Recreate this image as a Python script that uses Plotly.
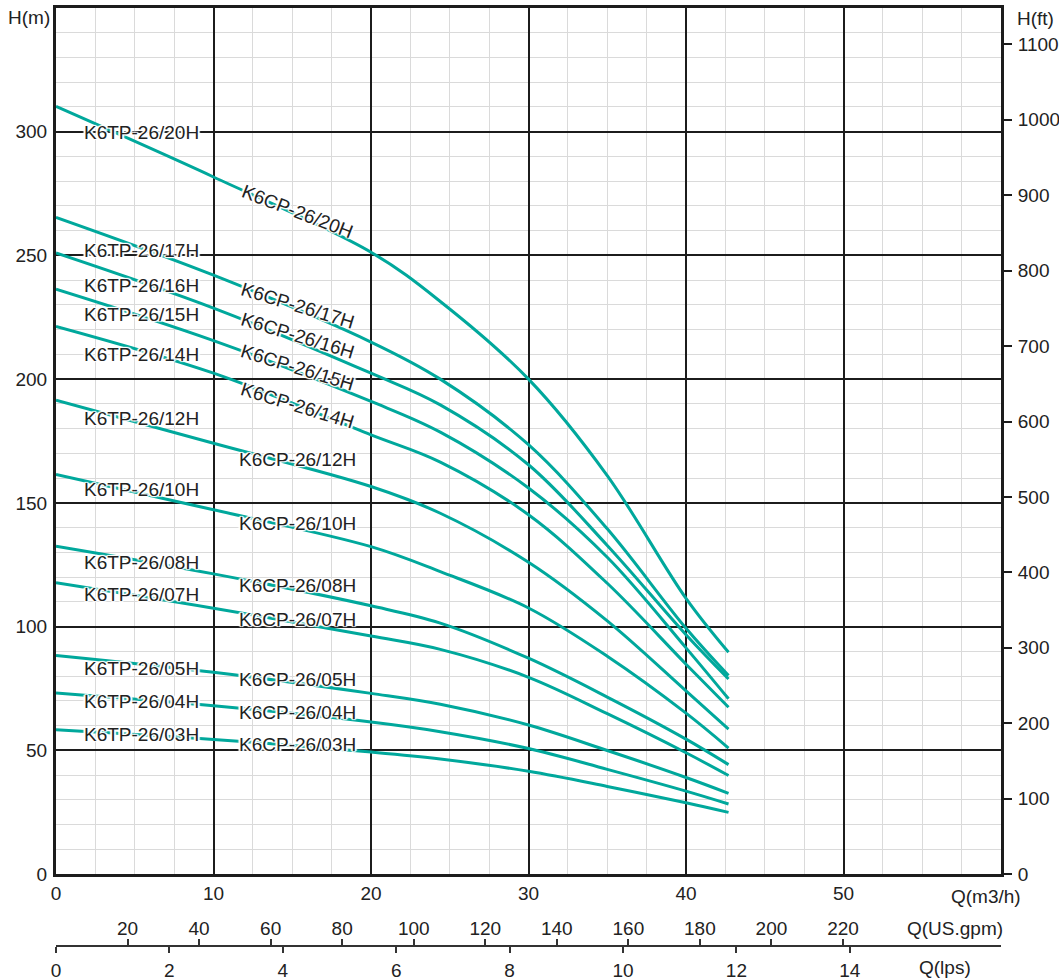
import plotly.graph_objects as go

# ---------------- data ----------------
Q = [0, 10, 20, 24.4, 30, 35, 40, 42.7]          # m3/h

H_20H = [310.2, 281.7, 251.3, 231.4, 200.0, 161.0, 111.4, 89.6]
H_17H = [265.4, 242.0, 215.0, 200.0, 173.5, 139.5, 99.3, 80.2]
H_16H = [251.0, 228.7, 202.4, 189.6, 165.4, 132.8, 96.7, 78.8]
H_15H = [236.4, 215.6, 191.0, 178.6, 156.0, 128.0, 91.4, 70.8]
H_14H = [221.3, 202.4, 177.5, 166.5, 145.2, 117.5, 84.8, 67.4]
H_12H = [191.5, 174.1, 156.6, 145.8, 126.0, 102.3, 74.0, 58.6]
H_10H = [161.5, 147.2, 132.3, 122.2, 107.5, 88.0, 65.0, 50.9]
H_08H = [132.5, 121.3, 108.4, 101.4, 87.2, 71.5, 54.5, 44.2]
H_07H = [117.7, 107.4, 96.2, 90.8, 79.5, 64.8, 49.0, 39.8]
H_05H = [88.3, 81.5, 73.0, 68.6, 60.2, 49.9, 39.0, 32.6]
H_04H = [73.2, 68.0, 61.4, 57.5, 50.7, 42.3, 33.5, 28.3]
H_03H = [58.3, 54.4, 49.3, 46.5, 41.5, 35.4, 28.8, 24.9]

curves = [H_20H, H_17H, H_16H, H_15H, H_14H, H_12H, H_10H,
          H_08H, H_07H, H_05H, H_04H, H_03H]

# left labels (K6TP) : text, Q centre, H centre
tp_labels = ["K6TP-26/20H", "K6TP-26/17H", "K6TP-26/16H", "K6TP-26/15H",
             "K6TP-26/14H", "K6TP-26/12H", "K6TP-26/10H", "K6TP-26/08H",
             "K6TP-26/07H", "K6TP-26/05H", "K6TP-26/04H", "K6TP-26/03H"]
tp_Q = 5.41
tp_H = [299.6, 251.8, 238.0, 226.0, 210.0, 184.0, 155.3, 126.0, 112.8, 83.2, 69.8, 56.5]

# right labels (K6CP) : text, Q centre, H centre, angle
cp_labels = ["K6CP-26/20H", "K6CP-26/17H", "K6CP-26/16H", "K6CP-26/15H",
             "K6CP-26/14H", "K6CP-26/12H", "K6CP-26/10H", "K6CP-26/08H",
             "K6CP-26/07H", "K6CP-26/05H", "K6CP-26/04H", "K6CP-26/03H"]
cp_Q = 15.33
cp_H = [267.9, 229.6, 217.5, 204.8, 189.5, 167.4, 141.5, 116.4, 103.0, 78.7, 65.4, 52.4]
cp_angle = [21, 17, 17, 17, 17, 0, 0, 0, 0, 0, 0, 0]

x_ticks = [0, 10, 20, 30, 40, 50, 60]
x_ticktext = ["0", "10", "20", "30", "40", "50", ""]
y_ticks = [0, 50, 100, 150, 200, 250, 300]
ft_ticks = [0, 100, 200, 300, 400, 500, 600, 700, 800, 900, 1000, 1100]
gpm_ticks = [20, 40, 60, 80, 100, 120, 140, 160, 180, 200, 220]
lps_ticks = [0, 2, 4, 6, 8, 10, 12, 14]

Q_MAX = 60
H_MAX = 350
M_PER_FT = 0.3048
M3H_PER_GPM = 0.2271247
M3H_PER_LPS = 3.6

# ---------------- styling / layout ----------------
W, HGT = 1059, 980
ML, MR, MT, MB = 56, 58, 8, 20
PW = W - ML - MR
PH = HGT - MT - MB


def px(xp):
    return (xp - ML) / PW


def py(yp):
    return (HGT - MB - yp) / PH


FONT = "Liberation Sans, Arial, sans-serif"
TXT = "#222222"
TEAL = "#00A89C"
BLACK = "#1c1c1c"
MINOR = "#dadada"
FS = 19

fig = go.Figure()
for h in curves:
    fig.add_trace(go.Scatter(x=Q, y=h, mode="lines",
                             line=dict(color=TEAL, width=3, shape="spline", smoothing=1.0),
                             showlegend=False, hoverinfo="skip", xaxis="x", yaxis="y"))

# helper traces so that the secondary axes are drawn
fig.add_trace(go.Scatter(x=[None], y=[None], xaxis="x", yaxis="y2", showlegend=False))
fig.add_trace(go.Scatter(x=[None], y=[None], xaxis="x2", yaxis="y", showlegend=False))
fig.add_trace(go.Scatter(x=[None], y=[None], xaxis="x3", yaxis="y", showlegend=False))

main_bottom = py(874)
axis_pos = py(946)

tickfont = dict(family=FONT, size=FS, color=TXT)

fig.update_layout(
    width=W, height=HGT,
    margin=dict(l=ML, r=MR, t=MT, b=MB, autoexpand=False),
    paper_bgcolor="white", plot_bgcolor="white",
    font=dict(family=FONT, size=FS, color=TXT),
    xaxis=dict(range=[0, Q_MAX], domain=[0, 1], anchor="y", automargin=False,
               tickmode="array", tickvals=x_ticks, ticktext=x_ticktext,
               showgrid=True, gridcolor=BLACK, gridwidth=2,
               minor=dict(tickmode="linear", tick0=0, dtick=2.5, showgrid=True,
                          gridcolor=MINOR, gridwidth=1.3),
               showline=True, linecolor=BLACK, linewidth=3, mirror=True,
               zeroline=False, ticks="", ticklabelstandoff=0, tickfont=tickfont),
    yaxis=dict(range=[0, H_MAX], domain=[main_bottom, 1], anchor="x", automargin=False,
               tickmode="array", tickvals=y_ticks,
               showgrid=True, gridcolor=BLACK, gridwidth=2,
               minor=dict(tickmode="linear", tick0=0, dtick=10, showgrid=True,
                          gridcolor=MINOR, gridwidth=1.3),
               showline=True, linecolor=BLACK, linewidth=3, mirror=True,
               zeroline=False, ticks="", ticklabelstandoff=2, tickfont=tickfont),
    yaxis2=dict(range=[0, H_MAX / M_PER_FT], domain=[main_bottom, 1], anchor="x",
                overlaying="y", side="right", automargin=False,
                tickmode="array", tickvals=ft_ticks,
                showgrid=False, zeroline=False, showline=False,
                ticks="outside", ticklen=10, tickwidth=1.5, tickcolor=BLACK,
                ticklabelstandoff=2, tickfont=tickfont),
    xaxis2=dict(range=[0, Q_MAX / M3H_PER_GPM], domain=[0, 1], automargin=False,
                overlaying="x", anchor="free", position=axis_pos, side="top",
                tickmode="array", tickvals=gpm_ticks,
                showgrid=False, zeroline=False,
                showline=True, linecolor="#333333", linewidth=2,
                ticks="outside", ticklen=6, tickwidth=1.5, tickcolor="#333333",
                ticklabelstandoff=-4, tickfont=tickfont),
    xaxis3=dict(range=[0, Q_MAX / M3H_PER_LPS], domain=[0, 1], automargin=False,
                overlaying="x", anchor="free", position=axis_pos, side="bottom",
                tickmode="array", tickvals=lps_ticks,
                showgrid=False, zeroline=False,
                showline=True, linecolor="#333333", linewidth=2,
                ticks="outside", ticklen=6, tickwidth=1.5, tickcolor="#333333",
                ticklabelstandoff=1, tickfont=tickfont),
)

halo = ("white 1px 1px 1px, white -1px -1px 1px, white 1px -1px 1px, "
        "white -1px 1px 1px, white 2px 0px 1px, white -2px 0px 1px")
lab_font = dict(family=FONT, size=FS, color=TXT, shadow=halo)

ann = []
for t, h in zip(tp_labels, tp_H):
    ann.append(dict(x=tp_Q, y=h, xref="x", yref="y", text=t, showarrow=False,
                    xanchor="center", yanchor="middle", font=lab_font))
for t, h, a in zip(cp_labels, cp_H, cp_angle):
    ann.append(dict(x=cp_Q, y=h, xref="x", yref="y", text=t, showarrow=False,
                    xanchor="center", yanchor="middle", textangle=a, font=lab_font))

title_font = dict(family=FONT, size=FS, color=TXT)
ann += [
    dict(x=px(52), y=py(18), xref="paper", yref="paper", text="H(m)", showarrow=False,
         xanchor="right", yanchor="middle", font=title_font),
    dict(x=px(1015), y=py(19), xref="paper", yref="paper", text="H(ft)", showarrow=False,
         xanchor="left", yanchor="middle", font=title_font),
    dict(x=px(1023), y=py(896), xref="paper", yref="paper", text="Q(m3/h)", showarrow=False,
         xanchor="right", yanchor="middle", font=title_font),
    dict(x=px(1005), y=py(928), xref="paper", yref="paper", text="Q(US.gpm)", showarrow=False,
         xanchor="right", yanchor="middle", font=title_font),
    dict(x=px(917), y=py(967), xref="paper", yref="paper", text="Q(lps)", showarrow=False,
         xanchor="left", yanchor="middle", font=title_font),
]
fig.update_layout(annotations=ann)

fig.write_html(
    "out.html",
    config={"displayModeBar": False},
    post_script="document.body.style.margin='0';document.body.style.overflow='hidden';",
)
